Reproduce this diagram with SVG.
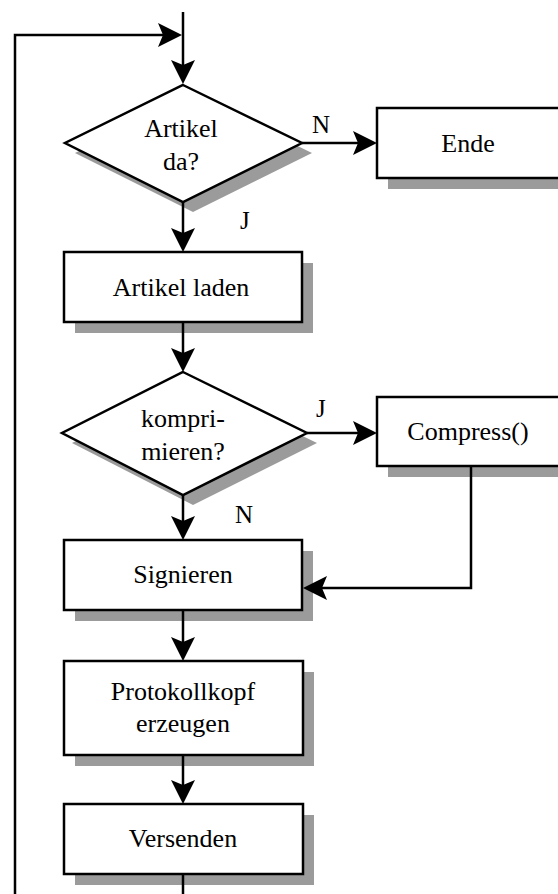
<svg xmlns="http://www.w3.org/2000/svg" xmlns:xlink="http://www.w3.org/1999/xlink" width="558" height="894" viewBox="0 0 558 894">
  <style>
    .shadow { fill: #9b9b9b; stroke: none; }
    .box { fill: #ffffff; stroke: #000000; stroke-width: 2.5; }
    .line { fill: none; stroke: #000000; stroke-width: 2.5; }
    .head { fill: #000000; stroke: none; }
    .txt { font-family: "Liberation Serif", "Times New Roman", serif; font-size: 26px; fill: #000000; text-anchor: middle; }
    .lbl { font-family: "Liberation Serif", "Times New Roman", serif; font-size: 25px; fill: #000000; }
  </style>
  <defs>
    <!-- arrowhead pointing right, tip at the origin -->
    <path id="ah" d="M0,0 L-24,-12 L-19,0 L-24,12 Z"/>
  </defs>
  <rect width="558" height="894" fill="#ffffff"/>

  <!-- decision: article available -->
  <g id="dec-artikel">
    <polygon class="shadow" points="193,95 312,153 193,212 75,153"/>
    <polygon class="box" points="183,85 302,143 183,202 65,143"/>
    <text class="txt" x="181" y="137">Artikel</text>
    <text class="txt" x="181" y="170">da?</text>
  </g>
  <g id="lbl-n1"><text class="lbl" x="312" y="133">N</text></g>
  <g id="lbl-j1"><text class="lbl" x="240" y="229">J</text></g>

  <!-- end -->
  <g id="ende">
    <rect class="shadow" x="388" y="119" width="200" height="70"/>
    <rect class="box" x="377" y="108" width="200" height="70"/>
    <text class="txt" x="468" y="152">Ende</text>
  </g>

  <!-- load article -->
  <g id="laden">
    <rect class="shadow" x="75" y="263" width="238" height="70"/>
    <rect class="box" x="64" y="252" width="238" height="70"/>
    <text class="txt" x="181" y="296">Artikel laden</text>
  </g>

  <!-- decision: compress -->
  <g id="dec-komprimieren">
    <polygon class="shadow" points="193,383 317,443 193,505 72,443"/>
    <polygon class="box" points="183,372 307,433 183,495 62,433"/>
    <text class="txt" x="183" y="427">kompri-</text>
    <text class="txt" x="183" y="460">mieren?</text>
  </g>
  <g id="lbl-j2"><text class="lbl" x="316" y="417">J</text></g>
  <g id="lbl-n2"><text class="lbl" x="235" y="523">N</text></g>

  <!-- compress -->
  <g id="compress">
    <rect class="shadow" x="388" y="408" width="200" height="69"/>
    <rect class="box" x="377" y="397" width="200" height="69"/>
    <text class="txt" x="468" y="440">Compress()</text>
  </g>

  <!-- sign -->
  <g id="signieren">
    <rect class="shadow" x="75" y="551" width="238" height="70"/>
    <rect class="box" x="64" y="540" width="238" height="70"/>
    <text class="txt" x="183" y="583">Signieren</text>
  </g>

  <!-- build protocol header -->
  <g id="protokollkopf">
    <rect class="shadow" x="75" y="672" width="239" height="94"/>
    <rect class="box" x="64" y="661" width="239" height="94"/>
    <text class="txt" x="183" y="700">Protokollkopf</text>
    <text class="txt" x="183" y="732">erzeugen</text>
  </g>

  <!-- send -->
  <g id="versenden">
    <rect class="shadow" x="75" y="815" width="239" height="70"/>
    <rect class="box" x="64" y="804" width="239" height="70"/>
    <text class="txt" x="183" y="847">Versenden</text>
  </g>

  <!-- connectors, drawn last so heads sit on top of the shadows -->
  <g id="connectors">
    <g class="line">
      <path d="M183,12 V78"/>
      <path d="M15,894 V35 H176"/>
      <path d="M302,143 H371"/>
      <path d="M183,202 V246"/>
      <path d="M183,322 V366"/>
      <path d="M307,433 H371"/>
      <path d="M183,495 V534"/>
      <path d="M471,466 V588 H310"/>
      <path d="M183,610 V655"/>
      <path d="M183,755 V798"/>
      <path d="M183,874 V894"/>
    </g>
    <g class="head">
      <use xlink:href="#ah" href="#ah" transform="translate(183,84) rotate(90)"/>
      <use xlink:href="#ah" href="#ah" transform="translate(182,35)"/>
      <use xlink:href="#ah" href="#ah" transform="translate(377,143)"/>
      <use xlink:href="#ah" href="#ah" transform="translate(183,252) rotate(90)"/>
      <use xlink:href="#ah" href="#ah" transform="translate(183,372) rotate(90)"/>
      <use xlink:href="#ah" href="#ah" transform="translate(377,433)"/>
      <use xlink:href="#ah" href="#ah" transform="translate(183,540) rotate(90)"/>
      <use xlink:href="#ah" href="#ah" transform="translate(303,588) rotate(180)"/>
      <use xlink:href="#ah" href="#ah" transform="translate(183,661) rotate(90)"/>
      <use xlink:href="#ah" href="#ah" transform="translate(183,804) rotate(90)"/>
    </g>
  </g>
</svg>
